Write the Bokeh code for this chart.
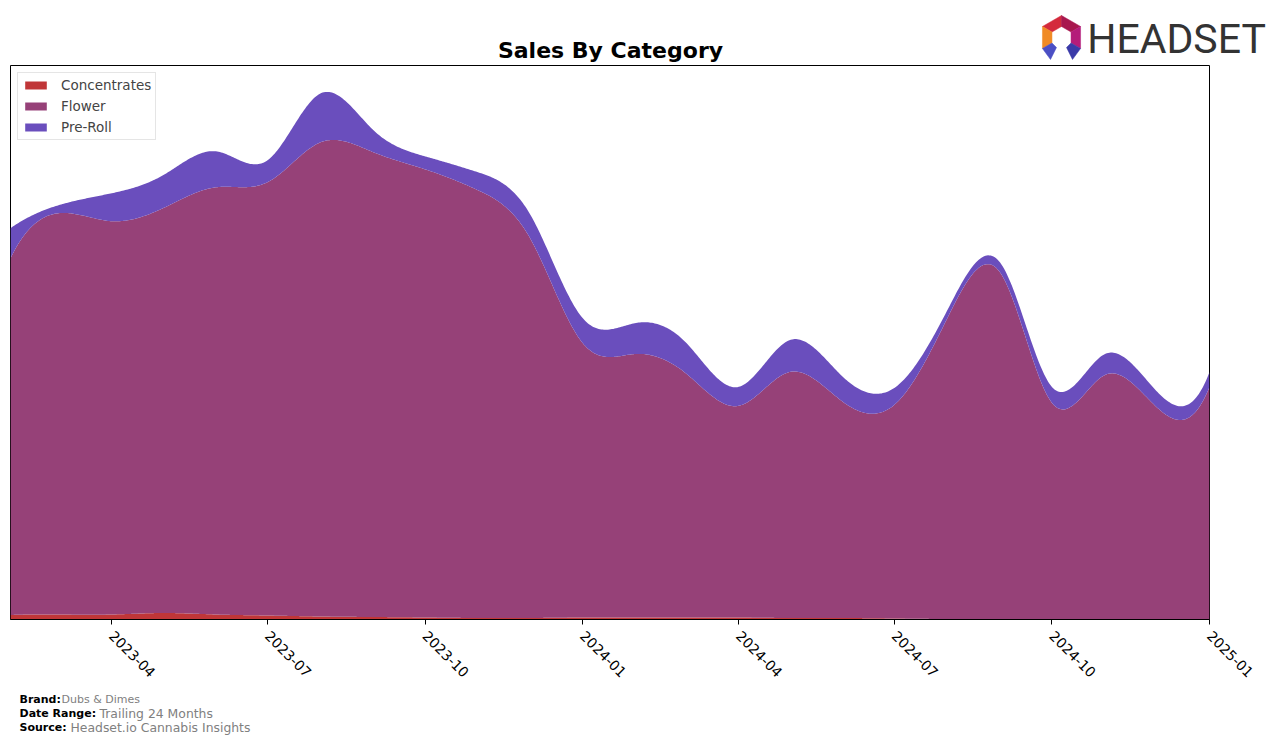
import numpy as np
import pandas as pd
from bokeh.plotting import figure
from bokeh.models import (Range1d, Label, Legend, LegendItem, MonthsTicker,
                          DatetimeTickFormatter, ColumnDataSource)
from bokeh.embed import file_html
from bokeh.resources import INLINE

# ---------------- data (monthly sales, arbitrary units) ----------------
months = ["2023-02-01", "2023-03-01", "2023-04-01", "2023-05-01", "2023-06-01", "2023-07-01",
          "2023-08-01", "2023-09-01", "2023-10-01", "2023-11-01", "2023-12-01", "2024-01-01",
          "2024-02-01", "2024-03-01", "2024-04-01", "2024-05-01", "2024-06-01", "2024-07-01",
          "2024-08-01", "2024-09-01", "2024-10-01", "2024-11-01", "2024-12-01", "2025-01-01"]
concentrates = [4.5, 5, 5, 6.5, 5, 4, 3, 2.5, 2, 1.5, 1.5, 2,
                2, 2, 2, 1.5, 1.5, 1, 0.5, 0.5, 0.5, 0.5, 0.5, 0.5]
flower = [357.5, 402, 394, 405.5, 428, 434, 475, 465.5, 449, 428.5, 381.5, 275,
          264, 245, 212, 246.5, 216.5, 214, 301.5, 346.5, 216.5, 244.5, 212.5, 232.5]
preroll = [30, 8, 28, 33, 36, 22, 49, 22, 13, 18, 24, 25,
           31, 31, 19, 32, 25, 17, 8, 10, 16, 21, 16, 15]
categories = ["Concentrates", "Flower", "Pre-Roll"]
colors = ["#C03638", "#964178", "#6A4EBD"]

brand = "Dubs & Dimes"
date_range = "Trailing 24 Months"
source_txt = "Headset.io Cannabis Insights"


# ---------------- smoothing (not-a-knot cubic spline through monthly points) ----------------
def spline(xk, yk, xs):
    xk = np.asarray(xk, float); yk = np.asarray(yk, float)
    m = len(xk) - 1
    h = np.diff(xk)
    A = np.zeros((4 * m, 4 * m)); b = np.zeros(4 * m)
    r = 0
    for i in range(m):
        A[r, 4 * i] = 1; b[r] = yk[i]; r += 1
        A[r, 4 * i:4 * i + 4] = [1, h[i], h[i] ** 2, h[i] ** 3]; b[r] = yk[i + 1]; r += 1
    for i in range(m - 1):
        A[r, 4 * i:4 * i + 4] = [0, 1, 2 * h[i], 3 * h[i] ** 2]; A[r, 4 * (i + 1) + 1] = -1; r += 1
        A[r, 4 * i:4 * i + 4] = [0, 0, 2, 6 * h[i]]; A[r, 4 * (i + 1) + 2] = -2; r += 1
    A[r, 3] = 1; A[r, 7] = -1; r += 1
    A[r, 4 * (m - 2) + 3] = 1; A[r, 4 * (m - 1) + 3] = -1; r += 1
    coef = np.linalg.solve(A, b).reshape(m, 4)
    idx = np.clip(np.searchsorted(xk, xs, side="right") - 1, 0, m - 1)
    t = xs - xk[idx]
    c = coef[idx]
    return c[:, 0] + c[:, 1] * t + c[:, 2] * t ** 2 + c[:, 3] * t ** 3


dates = pd.to_datetime(months)
start = dates[0]
xk = np.array([(d - start).days for d in dates], float) / 30.0
xs = np.linspace(xk[0], xk[-1], 900)
xd = start + pd.to_timedelta(xs * 30.0, unit="D")

c_s = np.maximum(spline(xk, concentrates, xs), 0)
f_s = np.maximum(spline(xk, flower, xs), 0)
p_s = np.maximum(spline(xk, preroll, xs), 0)
l0 = np.zeros_like(xs)
l1 = c_s
l2 = l1 + f_s
l3 = l2 + p_s
src = ColumnDataSource(dict(x=xd, l0=l0, l1=l1, l2=l2, l3=l3))

W = 1276

# ---------------- header (title + logo) ----------------
HH = 64
hdr = figure(width=W, height=HH, x_range=Range1d(0, W), y_range=Range1d(0, HH),
             x_axis_location=None, y_axis_location=None, toolbar_location=None,
             output_backend="svg", min_border=0, outline_line_color=None)
hdr.xgrid.visible = False
hdr.ygrid.visible = False
hdr.add_layout(Label(x=610, y=HH - 50, text="Sales By Category", text_font="DejaVu Sans",
                     text_font_style="bold", text_font_size="22px", text_align="center",
                     text_baseline="middle", text_color="black"))
hdr.add_layout(Label(x=1176, y=HH - 38.5, text="HEADSET", text_font="Roboto",
                     text_font_size="41px", text_align="center", text_baseline="middle",
                     text_color="#333333"))
# logo icon (hexagonal ring)
cx, cy = 1061, 37
R, r_in = 22, 11
def hx(rad, ang):
    return cx + rad * np.cos(np.radians(ang)), HH - (cy - rad * np.sin(np.radians(ang)))
angs = {"T": 90, "UR": 30, "LR": -30, "B": -90, "LL": -150, "UL": 150}
O = {k: hx(R, a) for k, a in angs.items()}
I = {k: hx(r_in, a) for k, a in angs.items()}
segs = [(("UL", "T"), "#D42A3C"), (("T", "UR"), "#A8174E"), (("UR", "LR"), "#B41C7A"),
        (("UL", "LL"), "#F08A24")]
for (a, bb), col in segs:
    xsg = [O[a][0], O[bb][0], I[bb][0], I[a][0]]
    ysg = [O[a][1], O[bb][1], I[bb][1], I[a][1]]
    hdr.patch(xsg, ysg, fill_color=col, line_color=col, line_width=0.5)
hdr.patch([O["LL"][0], I["LL"][0], cx - 5, cx - 11], [O["LL"][1], I["LL"][1], HH - 47, HH - 59],
          fill_color="#4B4FC4", line_color="#4B4FC4", line_width=0.5)
hdr.patch([O["LR"][0], I["LR"][0], cx + 5, cx + 11], [O["LR"][1], I["LR"][1], HH - 47, HH - 59],
          fill_color="#3A3AA8", line_color="#3A3AA8", line_width=0.5)

# ---------------- main chart ----------------
p = figure(width=W, height=620, x_axis_type="datetime",
           x_range=Range1d(start=dates[0], end=dates[-1]), y_range=Range1d(0, 555),
           y_axis_location=None, toolbar_location=None, output_backend="svg",
           min_border_left=10, min_border_right=67, min_border_top=1, min_border_bottom=64)
p.xgrid.visible = False
p.ygrid.visible = False
p.outline_line_color = "black"
p.outline_line_width = 1
p.background_fill_color = "white"

r_c = p.varea(x="x", y1="l0", y2="l1", source=src, fill_color=colors[0])
r_f = p.varea(x="x", y1="l1", y2="l2", source=src, fill_color=colors[1])
r_p = p.varea(x="x", y1="l2", y2="l3", source=src, fill_color=colors[2])

ax = p.xaxis[0]
ax.ticker = MonthsTicker(months=[0, 3, 6, 9])
ax.formatter = DatetimeTickFormatter(months="%Y-%m", years="%Y-%m", days="%Y-%m")
ax.major_label_orientation = -np.pi / 4
ax.major_label_text_font = "DejaVu Sans"
ax.major_label_text_font_size = "14px"
ax.major_label_text_color = "black"
ax.major_label_standoff = 9
ax.minor_tick_line_color = None
ax.major_tick_in = 0
ax.major_tick_out = 5
ax.major_tick_line_color = "black"
ax.axis_line_color = "black"

legend = Legend(items=[LegendItem(label=categories[0], renderers=[r_c]),
                       LegendItem(label=categories[1], renderers=[r_f]),
                       LegendItem(label=categories[2], renderers=[r_p])],
                location="top_left", margin=7, padding=4, spacing=5,
                glyph_width=27, glyph_height=10, label_height=16, label_standoff=12,
                label_text_font="DejaVu Sans", label_text_font_size="13.5px",
                border_line_color="#cccccc", background_fill_alpha=0.85)
p.add_layout(legend)

# ---------------- footer ----------------
FH = 57
ftr = figure(width=W, height=FH, x_range=Range1d(0, W), y_range=Range1d(0, FH),
             x_axis_location=None, y_axis_location=None, toolbar_location=None,
             output_backend="svg", min_border=0, outline_line_color=None)
ftr.xgrid.visible = False
ftr.ygrid.visible = False
rows = [("Brand:", brand, 61, 15, "11px"), ("Date Range:", date_range, 99, 29, "12.4px"),
        ("Source:", source_txt, 70, 43, "12.4px")]
for key, val, vx, by, vs in rows:
    ftr.add_layout(Label(x=19, y=FH - by, text=key, text_font="DejaVu Sans", text_font_style="bold",
                         text_font_size="11px", text_baseline="alphabetic", text_color="black"))
    ftr.add_layout(Label(x=vx, y=FH - by, text=val, text_font="DejaVu Sans",
                         text_font_size=vs, text_baseline="alphabetic", text_color="#808080"))

open("out.html", "w").write(file_html([hdr, p, ftr], INLINE))
